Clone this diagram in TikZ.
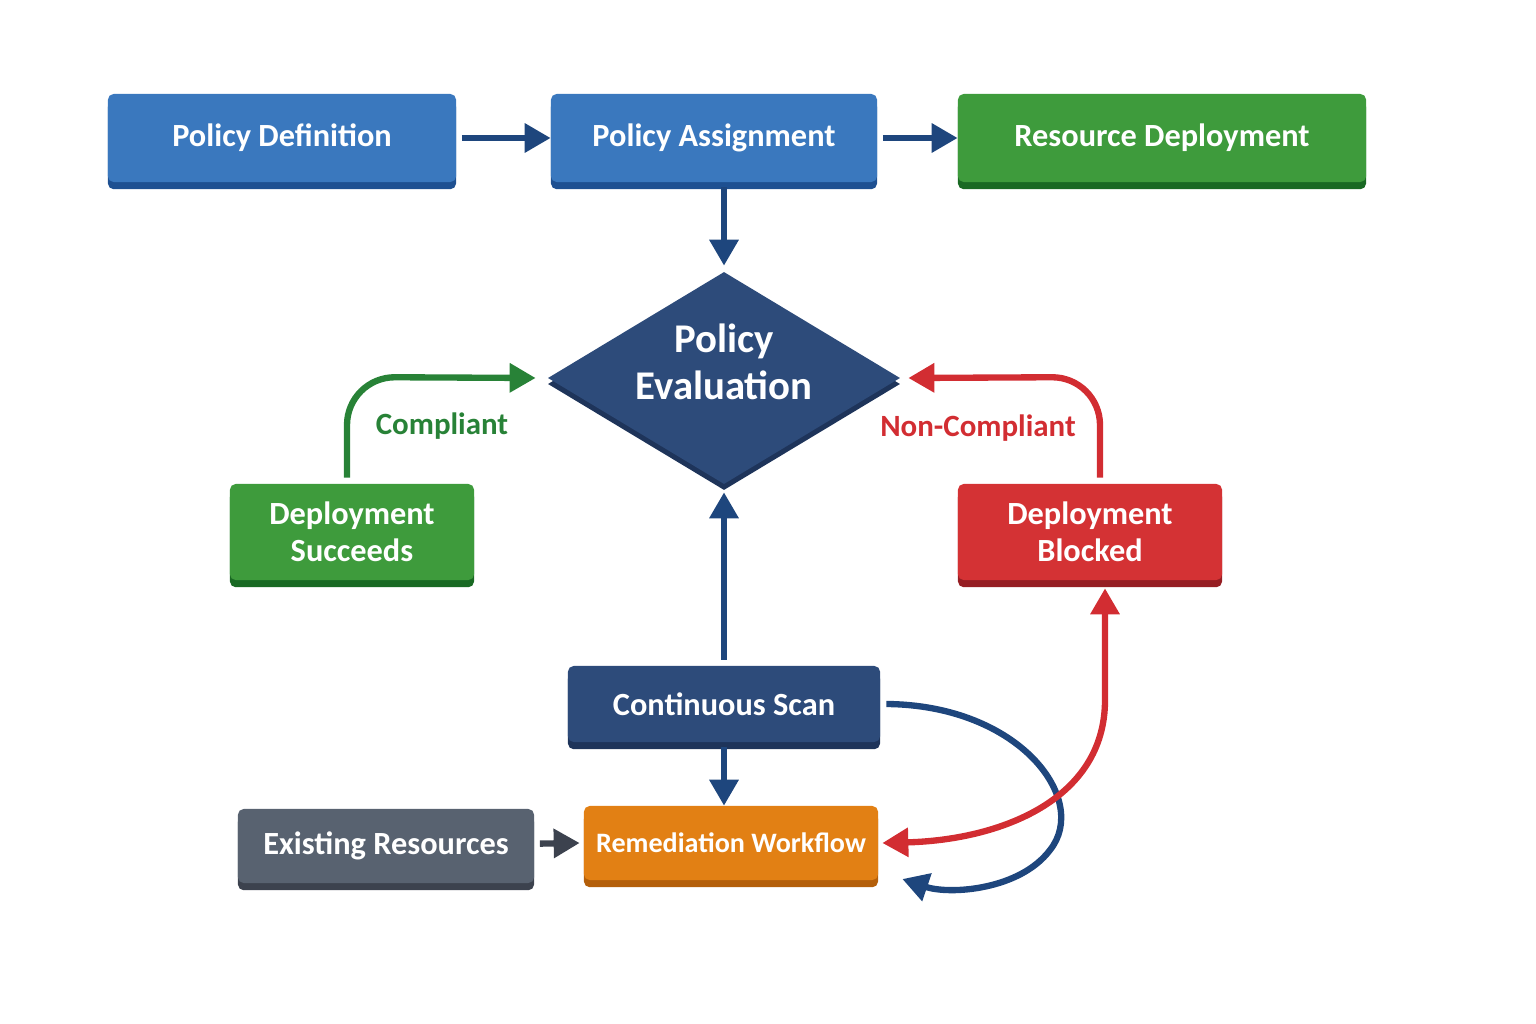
\documentclass[tikz,border=0pt]{standalone}
\usepackage{fontspec}
\setmainfont{Carlito}
\usetikzlibrary{shapes.geometric,arrows.meta}
\definecolor{defblue}{RGB}{58, 120, 190}
\definecolor{defbluedark}{RGB}{30, 80, 145}
\definecolor{deploygreen}{RGB}{62, 155, 60}
\definecolor{deploygreendark}{RGB}{25, 105, 35}
\definecolor{blockred}{RGB}{212, 50, 52}
\definecolor{blockreddark}{RGB}{150, 30, 35}
\definecolor{evalnavy}{RGB}{45, 75, 122}
\definecolor{evalnavydark}{RGB}{30, 52, 90}
\definecolor{existgrey}{RGB}{88, 98, 112}
\definecolor{existgreydark}{RGB}{60, 66, 78}
\definecolor{remorange}{RGB}{226, 128, 20}
\definecolor{remorangedark}{RGB}{180, 95, 10}
\definecolor{arrowblue}{RGB}{30, 70, 125}
\definecolor{arrowgreen}{RGB}{40, 130, 55}
\definecolor{arrowred}{RGB}{210, 45, 50}
\begin{document}
\begin{tikzpicture}[x=0.025cm, y=-0.025cm,
        box/.style={rectangle, rounded corners=4pt, text=white, align=center,
            font=\fontsize{23}{26}\selectfont\bfseries, minimum height=2.2cm},
        step/.style={box, fill=#1, preaction={fill=#1dark, transform canvas={yshift=-0.18cm}}},
        flow/.style={-{Triangle[length=0.65cm, width=0.7cm]}, line width=4.5pt, color=arrowblue},
        label/.style={font=\fontsize{22}{25}\selectfont\bfseries}
    ]
    \useasboundingbox (0,0) rectangle (1536,1024);

    % Top row
    \node[step=defblue, minimum width=8.7cm, minimum height=2.2cm] (definition) at (282,138) {Policy Definition};
    \node[step=defblue, minimum width=8.15cm, minimum height=2.2cm] (assignment) at (714,138) {Policy Assignment};
    \node[step=deploygreen, minimum width=10.2cm, minimum height=2.2cm] (resdeploy) at (1162,138) {Resource Deployment};

    % Evaluation
    \node[diamond, fill=evalnavy, preaction={fill=evalnavydark, transform canvas={yshift=-0.15cm}},
        minimum width=8.8cm, minimum height=5.3cm, inner xsep=0pt, inner ysep=-0.3cm, text=white, align=center,
        font=\fontsize{29}{33}\selectfont\bfseries, aspect=1.66] (evaluation) at (724,378) {Policy\\Evaluation\\[-0.35cm]\mbox{}};

    % Outcomes
    \node[step=deploygreen, minimum width=6.1cm, minimum height=2.4cm] (succeeds) at (352,532) {Deployment\\Succeeds};
    \node[step=blockred, minimum width=6.6cm, minimum height=2.4cm] (blocked) at (1090,532) {Deployment\\Blocked};

    % Scanning
    \node[step=evalnavy, minimum width=7.8cm, minimum height=1.9cm] (scan) at (724,704) {Continuous Scan};
    \node[step=existgrey, minimum width=7.4cm, minimum height=1.85cm] (existing) at (386,846) {Existing Resources};
    \node[step=remorange, minimum width=7.35cm, minimum height=1.85cm, font=\fontsize{20}{24}\selectfont\bfseries] (remediation) at (731,843) {Remediation Workflow};

    % Main flows
    \draw[flow, shorten <=4pt] (definition) -- (assignment);
    \draw[flow, shorten <=4pt] (assignment) -- (resdeploy);
    \draw[flow] (assignment.south -| evaluation) ++(0,5) -- ([yshift=0.15cm]evaluation.north);
    \draw[flow] (scan.north -| evaluation) ++(0,-6) -- ([yshift=-0.2cm]evaluation.south);
    \draw[flow] (scan.south -| evaluation) ++(0,5) -- (remediation.north -| evaluation);
    \draw[flow, color=existgreydark, shorten <=4pt] (existing) -- ([xshift=-0.1cm]remediation.west);

    % Outcome flows
    \draw[flow, color=arrowgreen, rounded corners=1.2cm] (succeeds.north -| 347,0) ++(0,-6) -- (347,377) -- ([xshift=-0.3cm]evaluation.west);
    \draw[flow, color=arrowred, rounded corners=1.2cm] (blocked.north -| 1100,0) ++(0,-6) -- (1100,377) -- ([xshift=0.2cm]evaluation.east);
    \node[label, text=arrowgreen] (compliant) at (442,426) {Compliant};
    \node[label, text=arrowred] (noncompliant) at (978,428) {Non-Compliant};

    % Remediation loops
    \draw[flow] ([xshift=0.15cm]scan.east) .. controls (1020,705) and (1090,800) .. (1050,850) .. controls (1020,890) and (950,895) .. ([xshift=0.6cm, yshift=-0.9cm]remediation.east);
    \draw[flow, color=arrowred, {Triangle[length=0.65cm, width=0.7cm]}-{Triangle[length=0.65cm, width=0.7cm]}] ([xshift=0.1cm]remediation.east) .. controls (1000,840) and (1105,800) .. (1105,700) -- ([yshift=-0.2cm]blocked.south -| 1105,0);
\end{tikzpicture}
\end{document}
